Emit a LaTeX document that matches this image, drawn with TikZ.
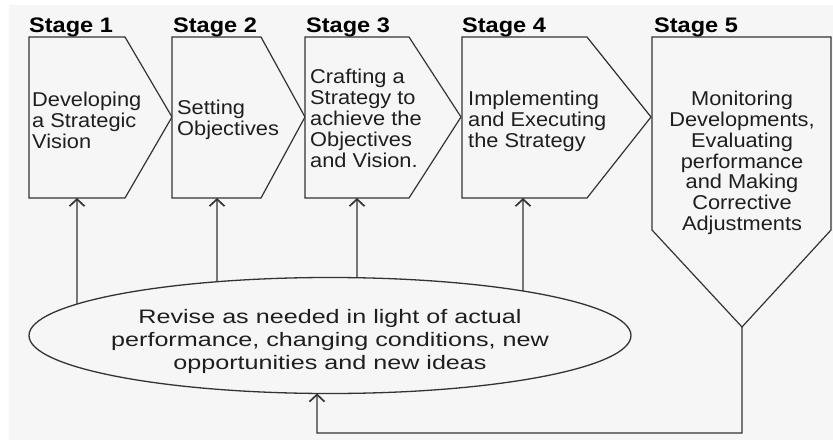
\documentclass[tikz,border=0pt]{standalone}
\usepackage{fontspec}
\setmainfont{Liberation Sans}
\newfontfamily\boxfont[FakeStretch=1.09]{Liberation Sans}
\newfontfamily\ellfont[FakeStretch=1.29]{Liberation Sans}
\newfontfamily\stgfont[FakeStretch=1.12]{Liberation Sans}
\usetikzlibrary{arrows.meta,intersections}
\definecolor{bgc}{HTML}{F6F6F6}
\definecolor{ln}{HTML}{333333}
\definecolor{txt}{HTML}{1E1E1E}
\begin{document}
\begin{tikzpicture}[x=1pt,y=-1pt,
  stagebox/.style={draw=ln,line width=1.2pt,line join=miter,fill=bgc},
  stagelabel/.style={anchor=base west,inner sep=0pt,font=\stgfont\bfseries\fontsize{21}{22}\selectfont,text=black},
  boxtext/.style={anchor=west,align=left,inner sep=0pt,font=\boxfont\fontsize{20}{21}\selectfont,text=txt},
  ctrtext/.style={align=center,inner sep=0pt,font=\boxfont\fontsize{20}{20.8}\selectfont,text=txt},
  elltext/.style={align=center,inner sep=0pt,font=\ellfont\fontsize{19.5}{23}\selectfont,text=txt},
  ellline/.style={draw=ln,line width=1.3pt},
  feed/.style={draw=ln,line width=1.3pt,-{Straight Barb[length=7pt,width=15pt,line width=1.7pt]}}]
\useasboundingbox (0,0) rectangle (833,441);
\fill[white] (0,0) rectangle (833,441);
\fill[bgc] (9,5) rectangle (833,440);

% stage shapes
\draw[stagebox] (29,37) -- (125,37) -- (172,117) -- (125,198) -- (29,198) -- cycle;
\draw[stagebox] (172,37) -- (261,37) -- (305,117) -- (261,198) -- (172,198) -- cycle;
\draw[stagebox] (305,37) -- (409,37) -- (461,117) -- (409,198) -- (305,198) -- cycle;
\draw[stagebox] (462,37) -- (587,37) -- (651,117) -- (587,198) -- (462,198) -- cycle;
\draw[stagebox] (652,37) -- (831,37) -- (831,230) -- (742,327) -- (652,230) -- cycle;

% stage labels
\node[stagelabel] (l1) at (29,33) {Stage 1};
\node[stagelabel] (l2) at (173,33) {Stage 2};
\node[stagelabel] (l3) at (306,33) {Stage 3};
\node[stagelabel] (l4) at (462,33) {Stage 4};
\node[stagelabel] (l5) at (654,33) {Stage 5};

% stage texts
\node[boxtext] (t1) at (32,120) {Developing\\a Strategic\\Vision};
\node[boxtext] (t2) at (177,120) {Setting\\Objectives};
\node[boxtext] (t3) at (310,118) {Crafting a\\Strategy to\\achieve the\\Objectives\\and Vision.};
\node[boxtext] (t4) at (468,121) {Implementing\\and Executing\\the Strategy};
\node[ctrtext] (t5) at (742,163) {Monitoring\\Developments,\\Evaluating\\performance\\and Making\\Corrective\\Adjustments};

% connector ends
\coordinate (b1) at (77,198);
\coordinate (b2) at (217,198);
\coordinate (b3) at (357,198);
\coordinate (b4) at (523,198);
\coordinate (s5) at (742,327);
\coordinate (c1) at (742,433);
\coordinate (c2) at (317,433);

% ellipse
\coordinate (ellc) at (330,335.5);
\draw[ellline,name path=ellp] (ellc) ellipse [x radius=301pt, y radius=58pt];
\node[elltext] (ell) at (330,341) {Revise as needed in light of actual\\performance, changing conditions, new\\opportunities and new ideas};

\path[name path=v1] (b1) -- ++(0,150);
\path[name path=v2] (b2) -- ++(0,150);
\path[name path=v3] (b3) -- ++(0,150);
\path[name path=v4] (b4) -- ++(0,150);
\path[name path=v5] (c2) -- ++(0,-60);

\draw[feed,name intersections={of=v1 and ellp}] (intersection-1) -- (b1);
\draw[feed,name intersections={of=v2 and ellp}] (intersection-1) -- (b2);
\draw[feed,name intersections={of=v3 and ellp}] (intersection-1) -- (b3);
\draw[feed,name intersections={of=v4 and ellp}] (intersection-1) -- (b4);
\draw[feed,name intersections={of=v5 and ellp}] (s5) -- (c1) -- (c2) -- (intersection-1);
\end{tikzpicture}
\end{document}
